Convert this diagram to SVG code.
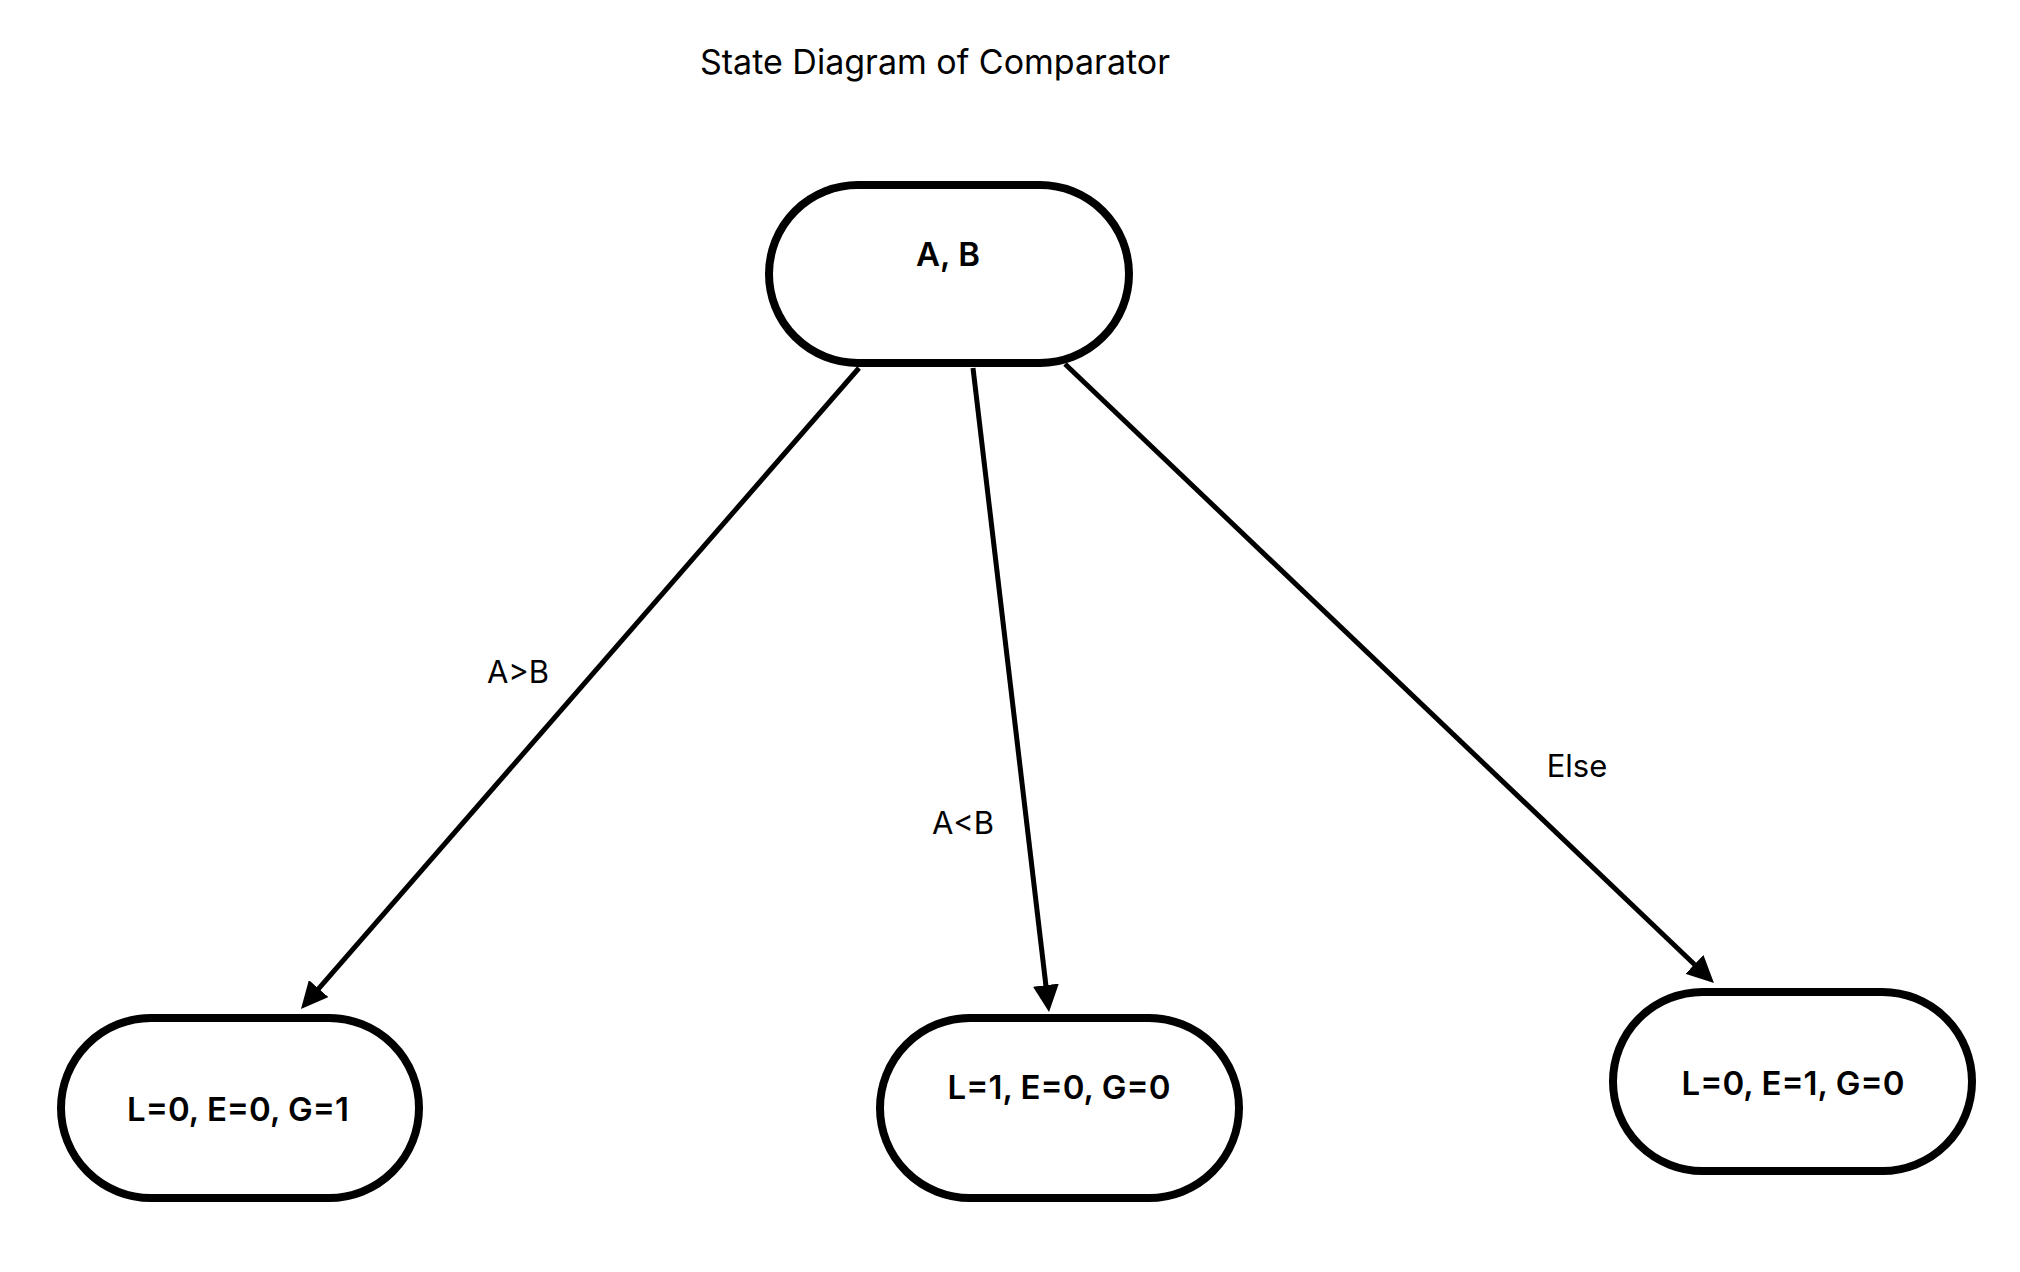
<svg xmlns="http://www.w3.org/2000/svg" width="2020" height="1272" viewBox="0 0 2020 1272">
<style>
.node{fill:#fff;stroke:#000;stroke-width:8}
.nt{font-family:Inter,"Liberation Sans",sans-serif;font-weight:600;font-size:33px;text-anchor:middle;fill:#000}
.lbl{font-family:Inter,"Liberation Sans",sans-serif;font-size:31px;text-anchor:middle;fill:#000}
.edge{stroke:#000;stroke-width:5;fill:none}
</style>
<defs>
<marker id="arr" viewBox="0 0 27 26" markerUnits="userSpaceOnUse" markerWidth="27" markerHeight="26" refX="7" refY="13" orient="auto">
<path d="M0,0 L27,13 L0,26 Z" fill="#000"/>
</marker>
</defs>
<rect width="2020" height="1272" fill="#fff"/>
<text x="935" y="74" class="lbl" style="font-size:34px">State Diagram of Comparator</text>
<g id="edges">
<line class="edge" x1="859" y1="368" x2="314.1" y2="993.9" marker-end="url(#arr)"/>
<line class="edge" x1="973" y1="368" x2="1046.7" y2="992.1" marker-end="url(#arr)"/>
<line class="edge" x1="1065" y1="364" x2="1699.5" y2="969.2" marker-end="url(#arr)"/>
<text x="518" y="683" class="lbl">A&gt;B</text>
<text x="963" y="834" class="lbl">A&lt;B</text>
<text x="1577" y="777" class="lbl">Else</text>
</g>
<g id="n0">
<rect class="node" x="769" y="185" width="360" height="178" rx="89"/>
<text x="948" y="266" class="nt">A, B</text>
</g>
<g id="n1">
<rect class="node" x="61" y="1018" width="358" height="180" rx="90"/>
<text x="238" y="1121" class="nt">L=0, E=0, G=1</text>
</g>
<g id="n2">
<rect class="node" x="880" y="1018" width="359" height="180" rx="90"/>
<text x="1059" y="1099" class="nt">L=1, E=0, G=0</text>
</g>
<g id="n3">
<rect class="node" x="1613" y="992" width="359" height="179" rx="89.5"/>
<text x="1793" y="1095" class="nt">L=0, E=1, G=0</text>
</g>
</svg>
